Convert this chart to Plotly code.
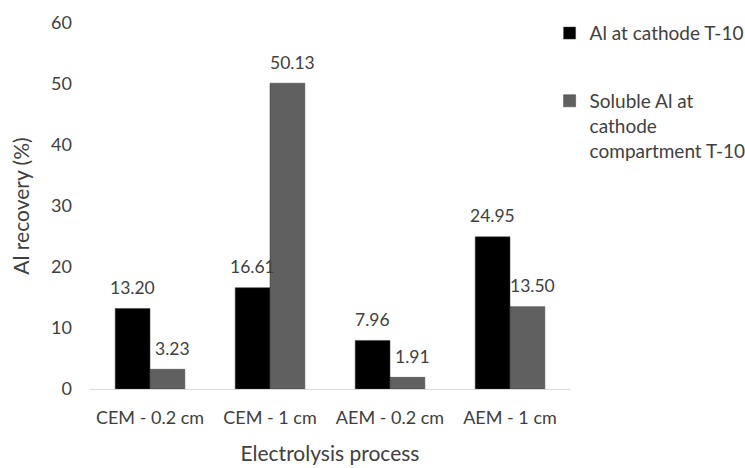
import plotly.graph_objects as go

# Electrolysis configurations and Al recovery (%)
processes = ["CEM - 0.2 cm", "CEM - 1 cm", "AEM - 0.2 cm", "AEM - 1 cm"]
al_cathode = [13.20, 16.61, 7.96, 24.95]
soluble_al = [3.23, 50.13, 1.91, 13.50]

series_names = ["Al at cathode T-10", "Soluble Al at<br>cathode<br>compartment T-10"]
series_colors = ["#000000", "#606060"]
y_ticks = [0, 10, 20, 30, 40, 50, 60]

FONT = "Lato, Carlito, Calibri, sans-serif"
TEXT_COLOR = "#404040"

PLOT_L, PLOT_R = 90, 570
BARGAP = 0.42
cat_px = (PLOT_R - PLOT_L) / len(processes)
bar_px = cat_px * (1 - BARGAP) / 2
label_nudge = [0, 5]  # keep grey-bar labels clear of the neighbouring black bar

fig = go.Figure()
for i, (name, vals, col) in enumerate(zip(series_names, [al_cathode, soluble_al], series_colors)):
    fig.add_trace(go.Bar(
        x=processes, y=vals, name=name,
        marker=dict(color=col, line=dict(color="#3a3a3a", width=0.5)),
        legendgroup=f"g{i}", hoverinfo="x+y",
    ))
    # value labels above each bar
    shift = (i - 0.5) * bar_px + label_nudge[i]
    for cat, v in zip(processes, vals):
        fig.add_annotation(
            x=cat, y=v, text=f"{v:.2f}", showarrow=False,
            xshift=shift, yshift=21, yanchor="middle",
            font=dict(size=17.5, color=TEXT_COLOR, family=FONT),
        )

fig.update_layout(
    width=745, height=468,
    margin=dict(l=PLOT_L, r=745 - PLOT_R, t=23, b=79, autoexpand=False),
    paper_bgcolor="white", plot_bgcolor="white",
    barmode="group", bargap=BARGAP, bargroupgap=0,
    font=dict(family=FONT, size=18, color=TEXT_COLOR),
    showlegend=True,
    legend=dict(
        x=0.9575, y=1.024, xanchor="left", yanchor="top",
        traceorder="grouped", tracegroupgap=40, valign="top",
        bgcolor="rgba(0,0,0,0)",
        font=dict(size=19, color=TEXT_COLOR, family=FONT),
        itemwidth=30,
    ),
    xaxis=dict(
        showline=True, linecolor="#d9d9d9", linewidth=1,
        ticks="", ticklabelstandoff=12,
        tickfont=dict(size=18, color=TEXT_COLOR),
        title=dict(text="Electrolysis process", font=dict(size=21, color=TEXT_COLOR), standoff=19),
    ),
    yaxis=dict(
        range=[0, 60], tickvals=y_ticks, showgrid=False, zeroline=False,
        showline=False, ticks="", ticklabelstandoff=17,
        tickfont=dict(size=18, color=TEXT_COLOR),
        title=dict(text="Al recovery (%)", font=dict(size=21, color=TEXT_COLOR), standoff=15),
    ),
)

fig.write_html("out.html")
